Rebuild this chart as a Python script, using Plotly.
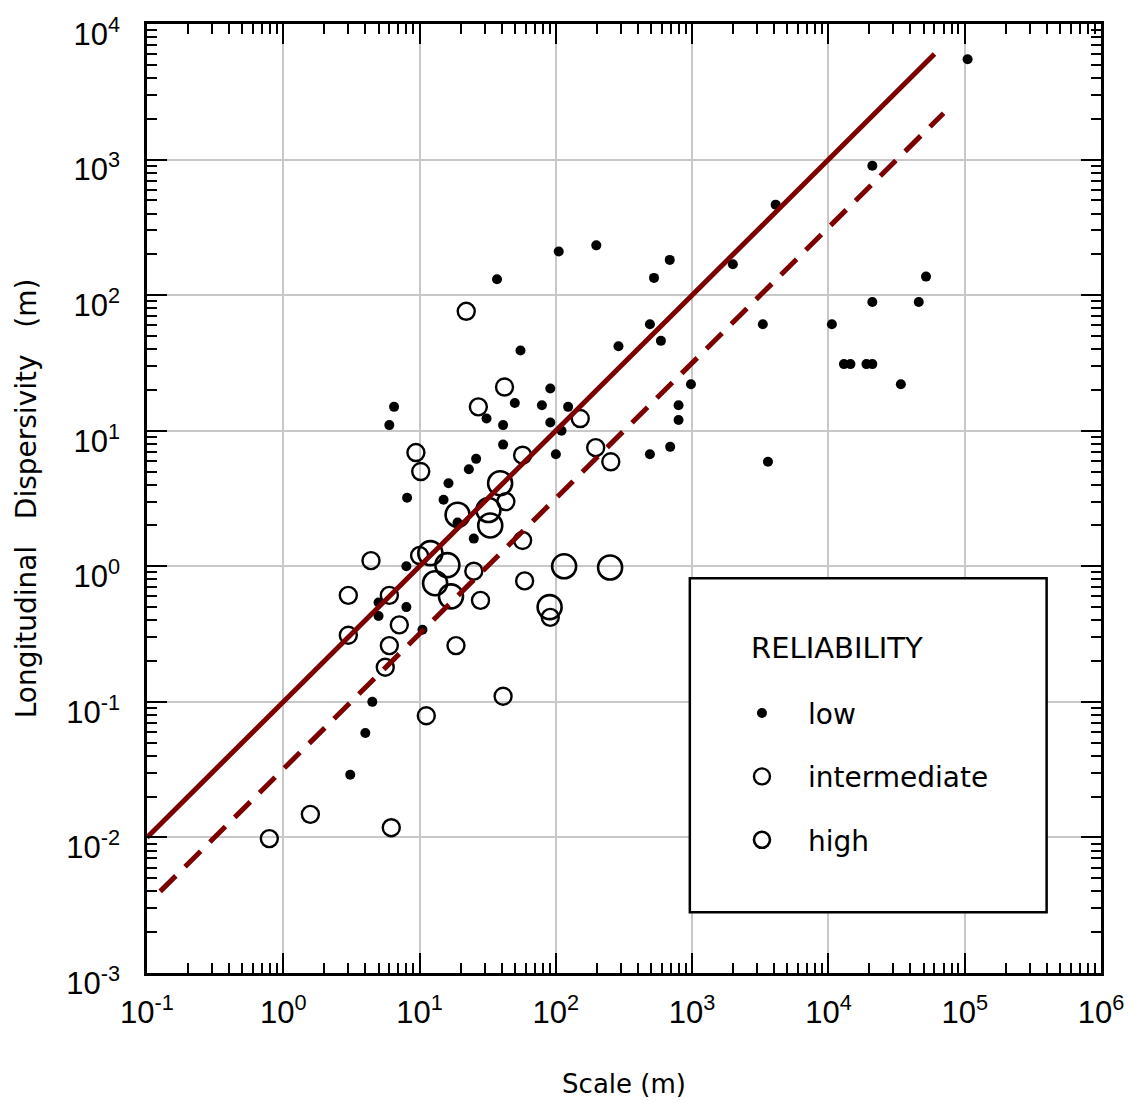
import plotly.graph_objects as go

# ---------------- data ----------------
low_x = [1.05e5, 2.1e4, 4.1e3, 105, 198, 685, 525, 1990, 5.2e4, 2.1e4, 4.6e4, 490, 3.3e3,
         1.06e4, 590, 288, 1.3e4, 1.45e4, 1.9e4, 2.1e4, 3.4e4, 980, 91, 79, 123, 795, 795,
         91, 110, 100, 490, 690, 3.6e3, 37, 55, 6.5, 6.0, 31, 50, 41, 41, 26, 23, 16.3, 8.1,
         15, 19, 25, 8, 8, 5.0, 5.0, 10.5, 4.5, 4.0, 3.1]
low_y = [5500, 900, 465, 210, 233, 182, 134, 169, 137, 89, 89, 61, 61,
         61, 46, 42, 31, 31, 31, 31, 22, 22, 20.5, 15.4, 15, 15.4, 12,
         11.5, 10, 6.7, 6.7, 7.6, 5.9, 131, 39, 15, 11, 12.3, 16, 11, 7.9, 6.2, 5.2, 4.1, 3.2,
         3.1, 2.1, 1.6, 1.0, 0.5, 0.54, 0.43, 0.34, 0.1, 0.059, 0.029]

int_x = [22, 42, 27, 151, 196, 253, 57, 9.4, 10.2, 43, 57, 4.4, 10, 25, 28, 59, 91, 3.0,
         6.0, 3.0, 7.1, 6.0, 5.6, 18.5, 41, 11.2, 0.79, 1.58, 6.2]
int_y = [76, 21, 15, 12.3, 7.5, 5.9, 6.6, 6.9, 5.0, 3.0, 1.55, 1.1, 1.2, 0.92, 0.56, 0.78,
         0.42, 0.61, 0.61, 0.31, 0.37, 0.26, 0.18, 0.26, 0.11, 0.079, 0.0098, 0.0148, 0.0118]

high_x = [39, 19, 32, 33, 12, 16, 13, 17, 115, 250, 90]
high_y = [4.1, 2.4, 2.6, 2.0, 1.25, 1.02, 0.75, 0.6, 1.0, 0.98, 0.5]

solid_x = [0.1, 6.0e4]
solid_y = [0.01, 6000]
dash_x = [0.125, 7.0e4]
dash_y = [0.004, 2200]

tick_vals = [0.1, 1, 10, 100, 1000, 1e4, 1e5, 1e6]
x_tick_text = ["10<sup>-1</sup>", "10<sup>0</sup>", "10<sup>1</sup>", "10<sup>2</sup>",
               "10<sup>3</sup>", "10<sup>4</sup>", "10<sup>5</sup>", "10<sup>6</sup>"]
y_tick_vals = [0.001, 0.01, 0.1, 1, 10, 100, 1000, 1e4]
y_tick_text = ["10<sup>-3</sup>", "10<sup>-2</sup>", "10<sup>-1</sup>", "10<sup>0</sup>",
               "10<sup>1</sup>", "10<sup>2</sup>", "10<sup>3</sup>", "10<sup>4</sup>"]

# ---------------- figure ----------------
RED = "#7d0000"
TICKFONT = dict(family="Liberation Sans, Arial, sans-serif", size=31, color="black")
TITLEFONT = dict(family="DejaVu Sans, sans-serif", size=26, color="black")
NB = "\u00a0\u00a0\u00a0"

fig = go.Figure()

fig.add_trace(go.Scatter(x=low_x, y=low_y, mode="markers", name="low",
                         legendgroup="a",
                         marker=dict(symbol="circle", size=10, color="black")))
fig.add_trace(go.Scatter(x=int_x, y=int_y, mode="markers", name="intermediate",
                         legendgroup="b",
                         marker=dict(symbol="circle-open", size=17, color="black",
                                     line=dict(width=2.4, color="black"))))
fig.add_trace(go.Scatter(x=high_x, y=high_y, mode="markers", name="high",
                         legendgroup="c",
                         marker=dict(symbol="circle-open", size=24, color="black",
                                     line=dict(width=2.6, color="black"))))
fig.add_trace(go.Scatter(x=solid_x, y=solid_y, mode="lines", showlegend=False,
                         line=dict(color=RED, width=5)))
fig.add_trace(go.Scatter(x=dash_x, y=dash_y, mode="lines", showlegend=False,
                         line=dict(color=RED, width=5, dash="22px,13px")))

minor_vals = [m * 10 ** e for e in range(-3, 6) for m in range(2, 10)]

axis_common = dict(
    type="log", tickmode="array", ticks="inside", ticklen=20, tickwidth=2,
    tickcolor="black", showline=True, linewidth=2.5, linecolor="black",
    mirror="allticks", showgrid=True, gridcolor="#c8c8c8", gridwidth=1.5,
    zeroline=False, automargin=False, tickfont=TICKFONT,
    minor=dict(tickmode="array", tickvals=minor_vals, ticks="inside", ticklen=10,
               tickwidth=1.5, tickcolor="black", showgrid=False),
)

fig.update_xaxes(range=[-1, 6], tickvals=tick_vals, ticktext=x_tick_text,
                 title=dict(text="Scale (m)", font=TITLEFONT, standoff=46),
                 ticklabelstandoff=10, **axis_common)
fig.update_yaxes(range=[-3, 4], tickvals=y_tick_vals, ticktext=y_tick_text,
                 title=dict(text="Longitudinal" + NB + "Dispersivity" + NB + "(m)",
                            font=dict(family="DejaVu Sans, sans-serif", size=28,
                                      color="black"),
                            standoff=22),
                 ticklabelstandoff=18, ticklabelshift=10, **axis_common)

# legend frame and heading
fig.add_shape(type="rect", xref="paper", yref="paper",
              x0=0.569, x1=0.943, y0=0.064, y1=0.416,
              line=dict(color="black", width=2.5), fillcolor="white", layer="above")
fig.add_annotation(text="RELIABILITY", xref="paper", yref="paper",
                   x=0.631, y=0.3425, xanchor="left", yanchor="middle", showarrow=False,
                   font=dict(family="DejaVu Sans, sans-serif", size=29, color="black"))

fig.update_layout(
    width=1133, height=1103, template="none",
    margin=dict(l=147, r=32, t=24, b=130),
    paper_bgcolor="white", plot_bgcolor="white",
    showlegend=True,
    legend=dict(x=0.5964, y=0.300, xanchor="left", yanchor="top",
                bgcolor="rgba(0,0,0,0)", borderwidth=0,
                font=dict(family="DejaVu Sans, sans-serif", size=28, color="black"),
                itemsizing="trace", itemwidth=82, tracegroupgap=24,
                traceorder="grouped"),
)

fig.write_html("out.html")
